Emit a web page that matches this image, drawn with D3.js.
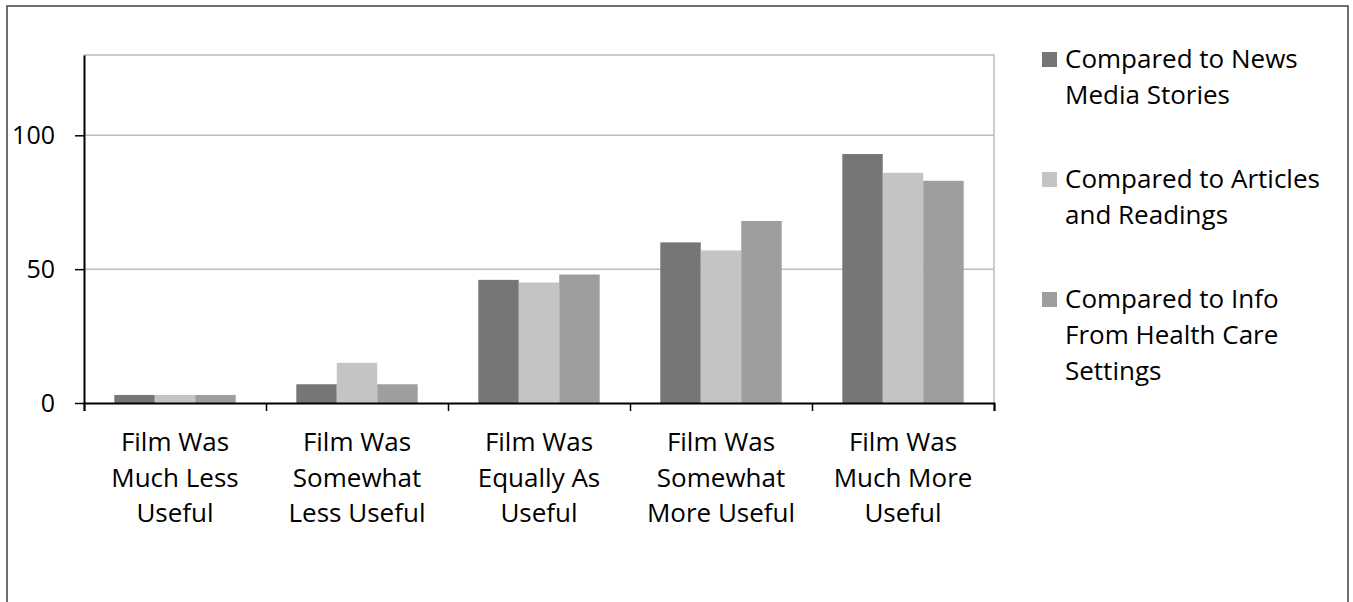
<!DOCTYPE html>
<html>
<head>
<meta charset="utf-8">
<script src="https://cdn.jsdelivr.net/npm/d3@7"></script>
<style>
  body { margin: 0; background: #fff; }
  text { font-family: "Open Sans", Lato, sans-serif; fill: #000; }
</style>
</head>
<body>
<svg id="chart" width="1353" height="602"></svg>
<script>
// data
const categories = [
    ["Film Was", "Much Less", "Useful"],
    ["Film Was", "Somewhat", "Less Useful"],
    ["Film Was", "Equally As", "Useful"],
    ["Film Was", "Somewhat", "More Useful"],
    ["Film Was", "Much More", "Useful"]
];
const seriesNames = [
    ["Compared to News", "Media Stories"],
    ["Compared to Articles", "and Readings"],
    ["Compared to Info", "From Health Care", "Settings"]
];
const newsMedia = [3, 7, 46, 60, 93];
const articles = [3, 15, 45, 57, 86];
const healthCare = [3, 7, 48, 68, 83];
const yTicks = [0, 50, 100];

const colors = ["#767676", "#c4c4c4", "#9e9e9e"];
const series = [newsMedia, articles, healthCare];

const svg = d3.select("#chart");

// outer frame
svg.append("rect")
    .attr("x", 7).attr("y", 6)
    .attr("width", 1341).attr("height", 620)
    .attr("fill", "none")
    .attr("stroke", "#404040")
    .attr("stroke-width", 1.5);

const plotLeft = 84, plotRight = 994, plotTop = 55, plotBottom = 403;

const x0 = d3.scaleBand()
    .domain(d3.range(categories.length))
    .range([plotLeft, plotRight])
    .paddingInner(0.333)
    .paddingOuter(0.1665);

const x1 = d3.scaleBand()
    .domain(d3.range(series.length))
    .range([0, x0.bandwidth()]);

const y = d3.scaleLinear()
    .domain([0, 130])
    .range([plotBottom, plotTop]);

// plot frame (top and right)
svg.append("path")
    .attr("d", `M${plotLeft},${plotTop}H${plotRight}V${plotBottom}`)
    .attr("fill", "none")
    .attr("stroke", "#bdbdbd")
    .attr("stroke-width", 1.5);

// gridlines
svg.append("g")
    .selectAll("line")
    .data(yTicks.filter(d => d > 0))
    .enter().append("line")
    .attr("x1", plotLeft).attr("x2", plotRight)
    .attr("y1", d => y(d)).attr("y2", d => y(d))
    .attr("stroke", "#bdbdbd")
    .attr("stroke-width", 1.5);

// bars
const groups = svg.append("g")
    .selectAll("g")
    .data(categories.map((c, i) => series.map((s, j) => ({ i: i, j: j, value: s[i] }))))
    .enter().append("g")
    .attr("transform", (d, i) => "translate(" + x0(i) + ",0)");

groups.selectAll("rect")
    .data(d => d)
    .enter().append("rect")
    .attr("x", d => x1(d.j))
    .attr("y", d => y(d.value))
    .attr("width", x1.bandwidth())
    .attr("height", d => y(0) - y(d.value))
    .attr("fill", d => colors[d.j]);

// y axis
const yAxis = svg.append("g")
    .attr("transform", "translate(" + plotLeft + ",0)")
    .call(d3.axisLeft(y).tickValues(yTicks).tickSizeInner(9).tickSizeOuter(0).tickPadding(20));
yAxis.select(".domain").attr("stroke", "#000").attr("stroke-width", 2);
yAxis.selectAll(".tick line").attr("stroke", "#000").attr("stroke-width", 1.5);
yAxis.selectAll(".tick text")
    .style("font-size", "25px")
    .attr("fill", "#000");

// x axis with ticks at category boundaries
const xb = d3.scaleLinear().domain([0, categories.length]).range([plotLeft, plotRight]);
const xAxis = svg.append("g")
    .attr("transform", "translate(0," + plotBottom + ")")
    .call(d3.axisBottom(xb).ticks(categories.length).tickSize(8).tickFormat(""));
xAxis.select(".domain").attr("stroke", "#000").attr("stroke-width", 2);
xAxis.selectAll(".tick line").attr("stroke", "#000").attr("stroke-width", 1.5);

// category labels
const catLabels = svg.append("g")
    .selectAll("text")
    .data(categories)
    .enter().append("text")
    .attr("text-anchor", "middle")
    .style("font-size", "26px")
    .attr("transform", (d, i) => "translate(" + (x0(i) + x0.bandwidth() / 2) + ",451)");

catLabels.selectAll("tspan")
    .data(d => d)
    .enter().append("tspan")
    .attr("x", 0)
    .attr("y", (d, i) => i * 35.5)
    .text(d => d);

// legend
const legend = svg.append("g")
    .selectAll("g")
    .data(seriesNames)
    .enter().append("g")
    .attr("transform", (d, i) => "translate(1042," + (59 + i * 120) + ")");

legend.append("rect")
    .attr("x", 0).attr("y", -7)
    .attr("width", 15).attr("height", 15)
    .attr("fill", (d, i) => colors[i]);

legend.append("text")
    .style("font-size", "26px")
    .selectAll("tspan")
    .data(d => d)
    .enter().append("tspan")
    .attr("x", 23)
    .attr("y", (d, i) => i * 36)
    .attr("dy", ".35em")
    .text(d => d);
</script>
</body>
</html>
